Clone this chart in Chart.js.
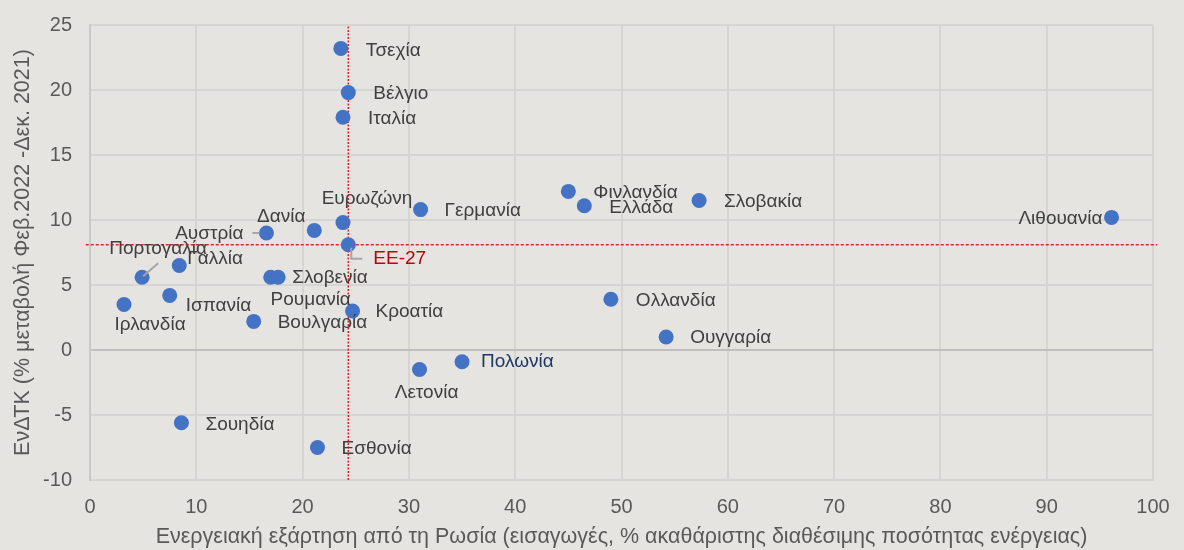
<!DOCTYPE html>
<html><head><meta charset="utf-8">
<script src="https://cdn.jsdelivr.net/npm/chart.js@4.4.0/dist/chart.umd.min.js"></script>
<style>html,body{margin:0;padding:0;background:#e5e4e0;overflow:hidden;} canvas{display:block;}</style>
</head><body>
<canvas id="c" width="1184" height="550"></canvas>
<script>
// ---- DATA ----
const countries = ['Τσεχία','Βέλγιο','Ιταλία','Ευρωζώνη','ΕΕ-27','Δανία','Αυστρία','Πορτογαλία','Γαλλία','Ιρλανδία','Ισπανία','Ρουμανία','Σλοβενία','Βουλγαρία','Κροατία','Γερμανία','Λετονία','Πολωνία','Σουηδία','Εσθονία','Φινλανδία','Ελλάδα','Σλοβακία','Ολλανδία','Ουγγαρία','Λιθουανία'];
const energyDependence = [23.6,24.3,23.8,23.8,24.3,21.1,16.6,4.9,8.4,3.2,7.5,17.0,17.7,15.4,24.7,31.1,31.0,35.0,8.6,21.4,45.0,46.5,57.3,49.0,54.2,96.1];
const hicpChange = [23.2,19.8,17.9,9.8,8.1,9.2,9.0,5.6,6.5,3.5,4.2,5.6,5.6,2.2,3.0,10.8,-1.5,-0.9,-5.6,-7.5,12.2,11.1,11.5,3.9,1.0,10.2];
const xTickValues = [0,10,20,30,40,50,60,70,80,90,100];
const yTickValues = [-10,-5,0,5,10,15,20,25];
const referenceName = 'ΕΕ-27';
const xTitle = 'Ενεργειακή εξάρτηση από τη Ρωσία (εισαγωγές, % ακαθάριστης διαθέσιμης ποσότητας ενέργειας)';
const yTitle = 'ΕνΔΤΚ (% μεταβολή Φεβ.2022 -Δεκ. 2021)';

// ---- STYLE (label placement relative to marker, in px) ----
const FONT = '"Liberation Sans", Arial, sans-serif';
const LABEL_COLOR = '#404040';
const labelStyle = {
  'Τσεχία':{dx:25,dy:2},
  'Βέλγιο':{dx:25,dy:1},
  'Ιταλία':{dx:25,dy:1},
  'Ευρωζώνη':{dx:24,dy:-24,align:'center'},
  'ΕΕ-27':{dx:25,dy:14,color:'#c00000',leader:[[3,3],[3,14],[14,14]]},
  'Δανία':{dx:-33,dy:-14,align:'center'},
  'Αυστρία':{dx:-23,dy:1,align:'right',leader:[[-14,0],[-7,0]]},
  'Πορτογαλία':{dx:16,dy:-28,align:'center',leader:[[1,-1],[16,-14]]},
  'Γαλλία':{dx:8,dy:-7},
  'Ιρλανδία':{dx:26,dy:20,align:'center'},
  'Ισπανία':{dx:16,dy:10},
  'Ρουμανία':{dx:40,dy:23,align:'center'},
  'Σλοβενία':{dx:14,dy:1},
  'Βουλγαρία':{dx:24,dy:1},
  'Κροατία':{dx:23,dy:1},
  'Γερμανία':{dx:24,dy:1},
  'Λετονία':{dx:7,dy:23,align:'center'},
  'Πολωνία':{dx:19,dy:0,color:'#1f3864'},
  'Σουηδία':{dx:24,dy:2},
  'Εσθονία':{dx:24,dy:1},
  'Φινλανδία':{dx:25,dy:1},
  'Ελλάδα':{dx:25,dy:2},
  'Σλοβακία':{dx:25,dy:1},
  'Ολλανδία':{dx:25,dy:1},
  'Ουγγαρία':{dx:24,dy:1},
  'Λιθουανία':{dx:-9,dy:1,align:'right'}
};

const refIdx = countries.indexOf(referenceName);
const refX = energyDependence[refIdx];
const refY = hicpChange[refIdx];

const points = countries.map((c,i)=>({x:energyDependence[i], y:hicpChange[i], name:c}));

const bgPlugin = {
  id:'bg',
  beforeDraw(chart){
    const ctx = chart.ctx;
    ctx.save();
    ctx.fillStyle = '#e5e4e0';
    ctx.fillRect(0,0,chart.width,chart.height);
    ctx.restore();
  }
};

const labelPlugin = {
  id:'labels',
  afterDatasetsDraw(chart){
    const ctx = chart.ctx;
    const meta = chart.getDatasetMeta(2);
    ctx.save();
    ctx.font = '19px ' + FONT;
    ctx.textBaseline = 'middle';
    meta.data.forEach((el,i)=>{
      const name = points[i].name;
      const st = labelStyle[name] || {dx:20,dy:0};
      const px = el.x, py = el.y;
      if (st.leader){
        ctx.strokeStyle = '#a6a6a6';
        ctx.lineWidth = 2;
        ctx.beginPath();
        st.leader.forEach((p,k)=>{ if(k===0) ctx.moveTo(px+p[0],py+p[1]); else ctx.lineTo(px+p[0],py+p[1]); });
        ctx.stroke();
      }
      ctx.fillStyle = st.color || LABEL_COLOR;
      ctx.textAlign = st.align || 'left';
      ctx.fillText(name, px+st.dx, py+st.dy);
    });
    ctx.restore();
  }
};

new Chart(document.getElementById('c'), {
  type:'scatter',
  data:{
    datasets:[
      { type:'line', data:[{x:refX,y:-10},{x:refX,y:25}], borderColor:'#e0201f', borderWidth:1.5, borderDash:[2,1.5], pointRadius:0, fill:false, clip:false, order:3 },
      { type:'line', data:[{x:-0.4,y:refY},{x:100.4,y:refY}], borderColor:'#d9262a', borderWidth:1.5, borderDash:[3,2], pointRadius:0, fill:false, clip:false, order:2 },
      { data:points, backgroundColor:'#4472c4', borderColor:'#4472c4', borderWidth:0, pointRadius:7.5, pointHoverRadius:7.5, order:1 }
    ]
  },
  options:{
    responsive:false,
    devicePixelRatio:1,
    animation:false,
    events:[],
    layout:{padding:{top:25,right:31,left:0,bottom:0}},
    plugins:{legend:{display:false},tooltip:{enabled:false}},
    scales:{
      x:{
        type:'linear', min:0, max:100,
        afterBuildTicks(s){ s.ticks = xTickValues.map(v=>({value:v})); },
        afterFit(s){ s.height = 70; s.paddingLeft = 0; s.paddingRight = 0; },
        grid:{ color:'#d5d5d3', lineWidth:2, drawTicks:false },
        border:{ display:true, color:'#d5d5d3', width:2 },
        ticks:{ padding:15, color:'#595959', font:{family:FONT,size:20} },
        title:{ display:true, text:xTitle, color:'#595959', font:{family:FONT,size:21.5}, padding:{top:0,bottom:0} }
      },
      y:{
        type:'linear', min:-10, max:25,
        afterBuildTicks(s){ s.ticks = yTickValues.map(v=>({value:v})); },
        afterFit(s){ s.width = 90; s.paddingTop = 0; s.paddingBottom = 0; },
        grid:{ color:(c)=> (c.tick && c.tick.value===0) ? '#bfbfbf' : '#d5d5d3', lineWidth:2, drawTicks:false },
        border:{ display:true, color:'#c9c9c9', width:2 },
        ticks:{ padding:18, color:'#595959', font:{family:FONT,size:20} },
        title:{ display:true, text:yTitle, color:'#595959', font:{family:FONT,size:21.5}, padding:{top:10,bottom:0} }
      }
    }
  },
  plugins:[bgPlugin,labelPlugin]
});
</script>
</body></html>
